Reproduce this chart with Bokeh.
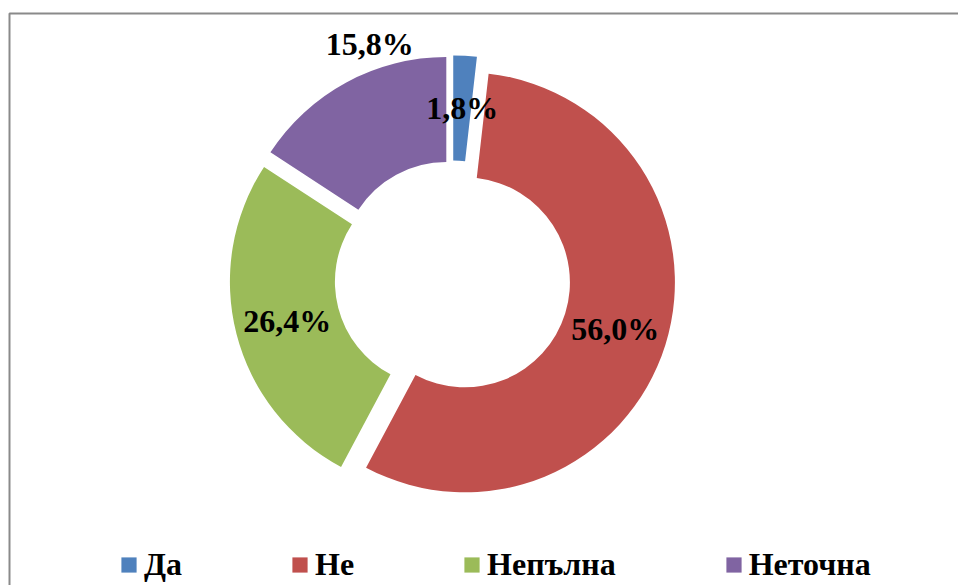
import math
from bokeh.plotting import figure
from bokeh.models import Range1d, Legend, LegendItem, ColumnDataSource
from bokeh.core.properties import value
from bokeh.embed import file_html
from bokeh.resources import INLINE

# ---- data ----
categories = ["Да", "Не", "Непълна", "Неточна"]
shares = [1.8, 56.0, 26.4, 15.8]
label_texts = ["1,8%", "56,0%", "26,4%", "15,8%"]
colors = ["#4F81BD", "#C0504D", "#9BBB59", "#8064A2"]

# ---- layout / style constants ----
W, H = 958, 585
CX, CY = 452, 278          # donut centre in figure pixels (from top-left)
R_OUT, R_IN = 210, 105
EXPLODE = 13
FONT = "Liberation Serif"
FS = "32px"
# label placement: radius from exploded centre, and angle nudge (degrees)
label_radius = [157.5, 157.5, 157.5, 236]
label_nudge = [0, 0, 0, 9.5]

total = sum(shares)
starts, ends, mids = [], [], []
acc = 0.0
for s in shares:
    f0 = acc / total
    acc += s
    f1 = acc / total
    starts.append(f0)
    ends.append(f1)
    mids.append((f0 + f1) / 2)

ex, ey, sa, ea, lx, ly = [], [], [], [], [], []
for i in range(len(shares)):
    th = mids[i] * 2 * math.pi  # clockwise from 12 o'clock
    x0 = EXPLODE * math.sin(th)
    y0 = EXPLODE * math.cos(th)
    ex.append(x0)
    ey.append(y0)
    sa.append(math.pi / 2 - starts[i] * 2 * math.pi)
    ea.append(math.pi / 2 - ends[i] * 2 * math.pi)
    tl = th + math.radians(label_nudge[i])
    lx.append(x0 + label_radius[i] * math.sin(tl))
    ly.append(y0 + label_radius[i] * math.cos(tl))

src = ColumnDataSource(dict(x=ex, y=ey, sa=sa, ea=ea, color=colors, cat=categories))

p = figure(width=W, height=H, output_backend="svg", toolbar_location=None,
           x_range=Range1d(-CX, W - CX), y_range=Range1d(-(H - CY), CY),
           min_border=0, background_fill_color="white", border_fill_color="white")
p.axis.visible = False
p.grid.visible = False
p.outline_line_color = None

# frame (partially visible chart border)
p.line(x=[-CX + 9, -CX + 9, W - CX], y=[-(H - CY), CY - 13, CY - 13],
       line_color="#8a8a8a", line_width=2)

r = p.annular_wedge(x="x", y="y", inner_radius=R_IN, outer_radius=R_OUT,
                    start_angle="sa", end_angle="ea", direction="clock",
                    fill_color="color", line_color=None, source=src)

p.text(x=lx, y=ly, text=label_texts, text_font=value(FONT), text_font_style="bold",
       text_font_size=FS, text_align="center", text_baseline="middle",
       text_color="black")

items = [LegendItem(label=c, renderers=[r], index=i) for i, c in enumerate(categories)]
legend = Legend(items=items, orientation="horizontal", location=(119, 2),
                glyph_width=19, glyph_height=19, label_standoff=6, spacing=108,
                padding=0, margin=0, border_line_color=None, background_fill_alpha=0,
                label_text_font=FONT, label_text_font_style="bold",
                label_text_font_size=FS, label_text_color="black")
p.add_layout(legend, "center")

open("out.html", "w").write(file_html(p, INLINE))
